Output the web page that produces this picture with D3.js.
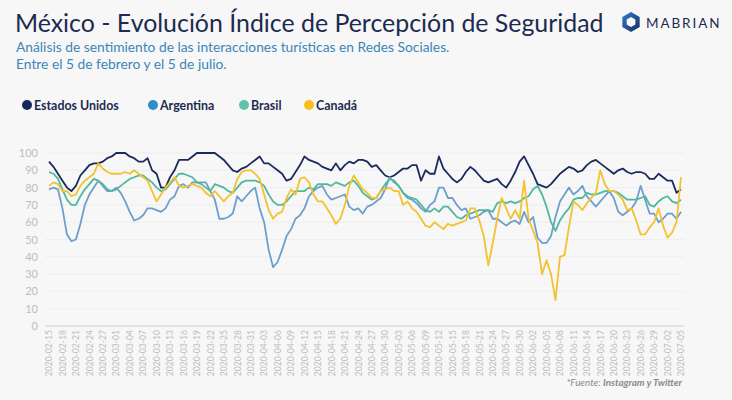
<!DOCTYPE html>
<html>
<head>
<meta charset="utf-8">
<script src="https://cdn.jsdelivr.net/npm/d3@7"></script>
<style>
  html, body { margin: 0; padding: 0; background: #f7f7f7; }
  svg { display: block; font-family: Lato, "Open Sans", sans-serif; }
</style>
</head>
<body>
<svg id="chart" width="732" height="400"></svg>
<script>
// ---- DATA ----
const startDate = "2020-02-15";
const endDate = "2020-07-05";
const yTicks = [0, 10, 20, 30, 40, 50, 60, 70, 80, 90, 100];
const seriesNames = ["Estados Unidos", "Argentina", "Brasil", "Canadá"];

const estadosUnidos = [
  95,92,88,84,80,78,81,87,90,93,
  94,94,95,97,98,100,100,100,98,97,
  95,95,97,90,88,80,80,86,90,96,
  96,96,98,100,100,100,100,100,98,96,
  93,90,89,91,92,94,96,98,94,94,
  92,90,88,84,85,89,93,98,96,95,
  94,92,91,90,94,90,93,95,94,96,
  96,95,92,93,90,87,86,87,89,91,
  91,93,93,84,90,88,88,98,91,88,
  85,83,85,89,92,90,87,84,83,84,
  85,82,80,84,89,95,98,93,88,82,
  81,80,82,85,88,90,92,91,89,90,
  93,95,96,94,92,90,88,90,91,89,
  88,89,89,88,85,85,88,86,84,84,
  77,79
];
const argentina = [
  79,80,79,68,53,49,50,59,70,76,
  80,84,81,78,78,80,77,72,66,61,
  62,64,68,68,67,66,68,73,75,81,
  82,80,83,83,83,83,78,73,62,62,
  63,65,75,72,75,78,80,68,60,44,
  34,37,44,52,56,62,64,68,75,78,
  80,81,76,73,74,75,76,69,67,68,
  65,69,70,72,74,79,86,83,81,77,
  74,73,71,68,66,70,72,80,80,74,
  74,70,67,68,62,63,64,66,67,62,
  62,60,58,60,61,59,66,60,63,51,
  48,48,52,63,72,76,80,76,78,81,
  75,72,69,72,75,78,74,66,64,66,
  68,72,81,73,65,65,60,62,65,65,
  62,66
];
const brasil = [
  89,88,85,79,73,70,70,75,79,82,
  85,84,82,79,78,79,81,83,85,86,
  87,87,85,83,80,78,79,82,85,88,
  88,87,86,83,82,80,78,82,81,80,
  78,77,80,83,84,84,84,83,81,76,
  72,70,70,72,75,78,78,78,80,79,
  82,82,82,81,83,82,81,83,84,81,
  77,75,73,74,78,82,85,84,81,77,
  75,74,73,70,67,66,68,66,69,69,
  66,63,62,64,65,66,67,67,67,66,
  71,72,71,72,71,72,74,75,79,81,
  76,69,60,55,61,65,68,73,74,74,
  77,76,76,77,78,78,78,77,75,73,
  73,73,74,75,70,69,72,74,75,72,
  71,73
];
const canada = [
  81,83,82,78,78,75,76,81,84,86,
  88,94,91,89,88,88,88,89,88,90,
  88,86,84,78,72,76,80,83,86,81,
  80,81,82,81,80,77,75,78,75,72,
  75,77,85,89,90,90,88,85,76,67,
  62,65,66,74,79,76,85,86,83,76,
  72,72,68,64,59,62,70,81,87,83,
  79,77,74,74,78,79,80,78,78,70,
  72,68,66,62,58,57,60,58,56,59,
  58,59,60,61,68,68,61,52,35,48,
  62,74,68,62,67,62,84,62,55,48,
  30,38,30,15,40,41,57,72,70,67,
  71,74,77,90,82,78,78,76,73,67,
  68,61,53,53,57,60,68,58,51,54,
  60,86
];

const lineColors = ["#1b2a5c", "#6d9fcd", "#52b89d", "#f2c230"];
const legendColors = ["#14285a", "#2f8dcc", "#5cc6aa", "#f5bf1f"];

// ---- BUILD ----
const svg = d3.select("#chart");
const parse = d3.timeParse("%Y-%m-%d");
const fmt = d3.timeFormat("%Y-%m-%d");
const dates = d3.timeDay.range(parse(startDate), d3.timeDay.offset(parse(endDate), 1));
const allSeries = [estadosUnidos, argentina, brasil, canada];

const x = d3.scaleTime().domain([parse(startDate), parse(endDate)]).range([49, 681]);
const y = d3.scaleLinear().domain([0, 100]).range([326, 153]);

// Title
svg.append("text").attr("x", 15).attr("y", 32)
  .attr("fill", "#1c2b50").attr("font-size", 24.9)
  .text("México - Evolución Índice de Percepción de Seguridad");
svg.append("text").attr("x", 16).attr("y", 52)
  .attr("fill", "#3b86b9").attr("font-size", 13.8)
  .text("Análisis de sentimiento de las interacciones turísticas en Redes Sociales.");
svg.append("text").attr("x", 16).attr("y", 69)
  .attr("fill", "#3b86b9").attr("font-size", 13.8)
  .text("Entre el 5 de febrero y el 5 de julio.");

// Logo
const logo = svg.append("g").attr("transform", "translate(631,22)");
const hex = d3.range(6).map(i => {
  const a = Math.PI / 3 * i + Math.PI / 6;
  return [Math.cos(a) * 10, Math.sin(a) * 10];
});
const defs = svg.append("defs");
const grad = defs.append("linearGradient").attr("id", "lg").attr("x1", "0").attr("y1", "0").attr("x2", "1").attr("y2", "1");
grad.append("stop").attr("offset", "0%").attr("stop-color", "#2f7fd0");
grad.append("stop").attr("offset", "100%").attr("stop-color", "#1b2a5c");
logo.append("path").attr("d", "M" + hex.join("L") + "Z").attr("fill", "url(#lg)");
logo.append("path").attr("d", "M" + hex.map(p => [p[0] * 0.5, p[1] * 0.5]).join("L") + "Z").attr("fill", "#f7f7f7");
svg.append("text").attr("x", 646).attr("y", 27.5)
  .attr("fill", "#1c2b50").attr("font-size", 13.5).attr("letter-spacing", 1.9)
  .text("MABRIAN");

// Legend
const legendX = [27, 153, 244, 309];
const legend = svg.append("g");
seriesNames.forEach((name, i) => {
  legend.append("circle").attr("cx", legendX[i]).attr("cy", 105).attr("r", 5).attr("fill", legendColors[i]);
  legend.append("text").attr("x", legendX[i] + 7).attr("y", 109.5)
    .attr("fill", "#1c2b50").attr("font-size", 12.4).attr("font-weight", "bold")
    .text(name);
});

// Gridlines
svg.append("g").selectAll("line").data(yTicks).join("line")
  .attr("x1", 45).attr("x2", 684)
  .attr("y1", d => y(d)).attr("y2", d => y(d))
  .attr("stroke", d => d === 0 ? "#dcdcdc" : "#eeeeee")
  .attr("stroke-width", d => d === 0 ? 1.5 : 1);

// Y axis
const yAxis = svg.append("g").attr("transform", "translate(38,0)")
  .call(d3.axisLeft(y).tickValues(yTicks).tickSize(0).tickPadding(0));
yAxis.select(".domain").remove();
yAxis.selectAll("text").attr("fill", "#bdbdbd").attr("font-size", 11).attr("font-family", "Lato, sans-serif");

// X axis
const tickDates = dates.filter((d, i) => i % 3 === 0);
const xAxis = svg.append("g").attr("transform", "translate(0,326)")
  .call(d3.axisBottom(x).tickValues(tickDates).tickFormat(fmt).tickSize(0).tickPadding(0));
xAxis.select(".domain").remove();
xAxis.selectAll("text")
  .attr("fill", "#bdbdbd").attr("font-size", 8.6).attr("font-family", "Lato, sans-serif")
  .attr("text-anchor", "end").attr("dy", "0.32em")
  .attr("transform", "translate(0,4) rotate(-90)");

// Lines
const line = d3.line().x((d, i) => x(dates[i])).y(d => y(d));
svg.append("g").selectAll("path").data(allSeries).join("path")
  .attr("d", d => line(d))
  .attr("fill", "none")
  .attr("stroke", (d, i) => lineColors[i])
  .attr("stroke-width", 1.8)
  .attr("stroke-linejoin", "round");

// Source
const src = svg.append("text").attr("x", 682).attr("y", 386).attr("text-anchor", "end")
  .attr("fill", "#8a8a8a").attr("font-size", 9.8).attr("font-style", "italic");
src.append("tspan").text("*Fuente: ");
src.append("tspan").attr("font-weight", "bold").text("Instagram y Twitter");
</script>
</body>
</html>
